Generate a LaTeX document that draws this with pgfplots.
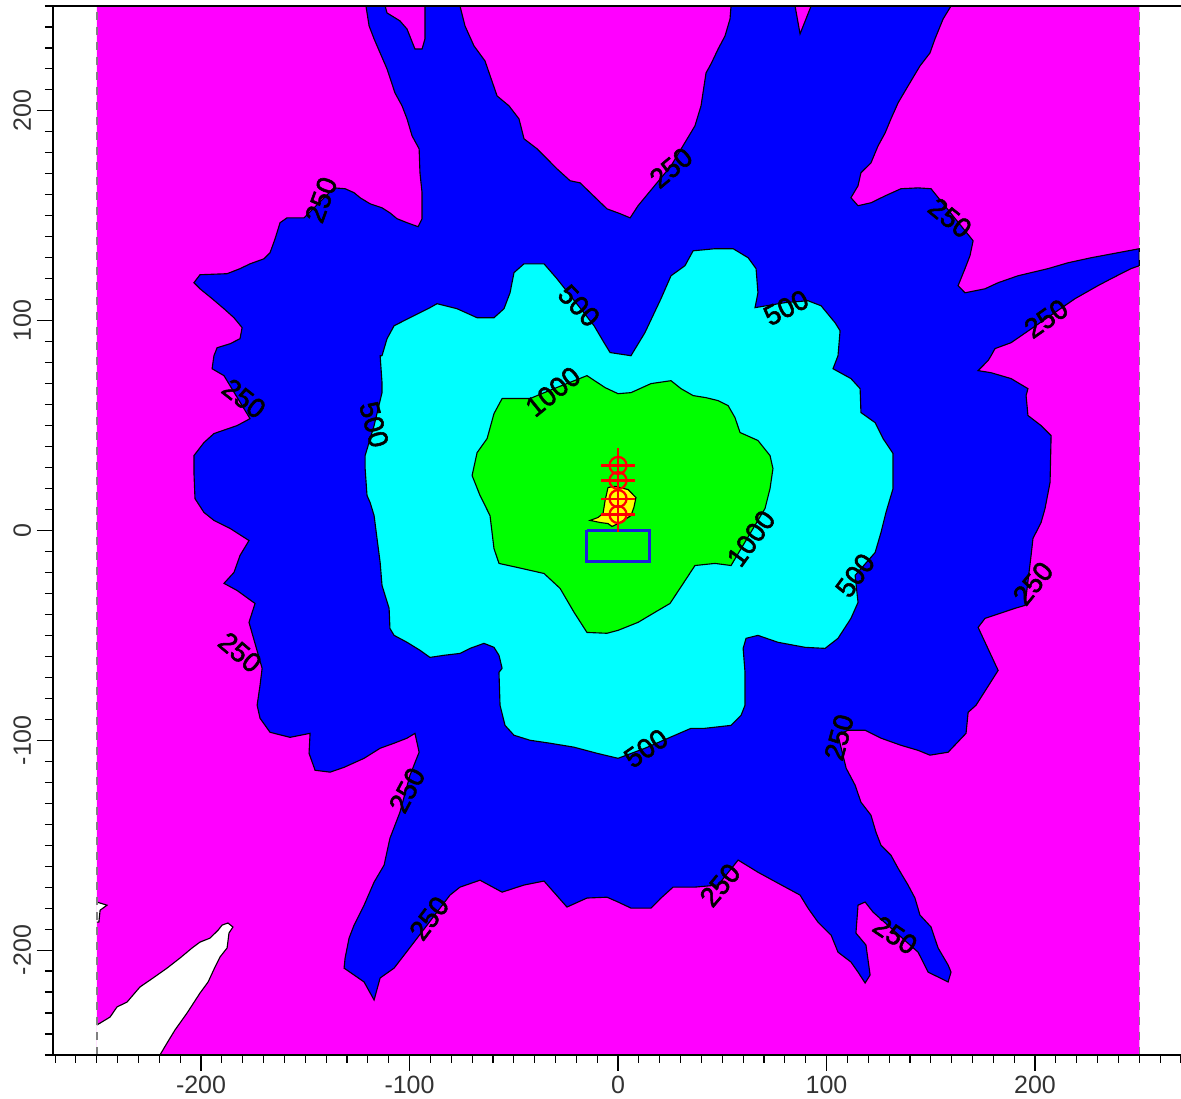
\documentclass[border=0pt]{standalone}
\usepackage{pgfplots}
\pgfplotsset{compat=1.18}
\usepackage{fontspec}
\setmainfont{Liberation Sans}
\newfontfamily\clabfont{Liberation Sans}[FakeBold=2]
\definecolor{cmag}{RGB}{255,0,255}
\definecolor{cblue}{RGB}{0,0,255}
\definecolor{ccyan}{RGB}{0,255,255}
\definecolor{cgreen}{RGB}{0,255,0}
\definecolor{cyel}{RGB}{255,255,0}
\definecolor{crect}{RGB}{30,30,220}
\tikzset{contour label/.style={font=\clabfont\fontsize{11}{13}\selectfont, black, inner sep=0pt}}
\begin{document}
\begin{tikzpicture}
\begin{axis}[
  scale only axis, width=451.2pt, height=419.6pt,
  xmin=-271, xmax=270, ymin=-250, ymax=250,
  axis x line*=box, axis y line*=left,
  axis on top,
  axis line style={line width=0.5pt, black},
  xtick pos=left, ytick pos=left,
  tick align=outside,
  major tick length=6.4pt, minor tick length=3.2pt,
  every tick/.style={black, line width=0.45pt},
  xtick={-200,-100,0,100,200},
  xticklabels={-200,-100,0,100,200},
  ytick={-200,-100,0,100,200},
  yticklabels={-200,-100,0,100,200},
  minor xtick={-270,-260,...,270},
  minor ytick={-250,-240,...,250},
  ticklabel style={font=\fontsize{10}{12}\selectfont, text=black!80},
  yticklabel style={rotate=90, anchor=south},
  xticklabel shift=-1.6pt,
  yticklabel shift=-1.2pt,
]
% background level (magenta)
\addplot[fill=cmag, draw=none] coordinates {(-250,-250)(250,-250)(250,250)(-250,250)(-250,-250)};
% white (below lowest level) bottom-left
\addplot[fill=white, draw=none] coordinates {(-250,-235.7)(-248.4,-234.8)(-243.6,-231.9)(-240.3,-227.1)(-235.5,-224.8)(-229.3,-217.6)(-223.0,-213.3)(-216.3,-208.6)(-210.1,-203.8)(-204.3,-199.0)(-200.5,-196.2)(-195.7,-194.3)(-191.8,-190.5)(-189.9,-188.1)(-187.1,-187.1)(-184.7,-189.0)(-186.6,-191.9)(-187.5,-199.0)(-190.9,-203.3)(-193.3,-208.1)(-196.6,-215.2)(-200.5,-220.5)(-206.7,-230.0)(-212.5,-238.1)(-216.3,-244.3)(-219.7,-250)(-250,-250)(-250,-235.7)};
\addplot[black, line width=0.45pt] coordinates {(-250,-235.7)(-248.4,-234.8)(-243.6,-231.9)(-240.3,-227.1)(-235.5,-224.8)(-229.3,-217.6)(-223.0,-213.3)(-216.3,-208.6)(-210.1,-203.8)(-204.3,-199.0)(-200.5,-196.2)(-195.7,-194.3)(-191.8,-190.5)(-189.9,-188.1)(-187.1,-187.1)(-184.7,-189.0)(-186.6,-191.9)(-187.5,-199.0)(-190.9,-203.3)(-193.3,-208.1)(-196.6,-215.2)(-200.5,-220.5)(-206.7,-230.0)(-212.5,-238.1)(-216.3,-244.3)(-219.7,-250)};
\addplot[fill=white, draw=black, line width=0.45pt] coordinates {(-250,-177.1)(-245.1,-178.6)(-248.4,-181)(-249,-186.7)(-250,-186.7)};
% 250 level (blue)
\addplot[fill=cblue, draw=black, line width=0.45pt] coordinates {
(-120.9,250)(-111.7,250)(-110.8,246.7)(-104.6,242.9)(-101.2,239.0)(-97.4,229.5)(-94.0,229.5)(-92.6,234.3)(-92.6,250)(-75.8,250)(-73.4,240.5)(-69.1,231.0)(-63.8,223.8)(-58.0,207.1)(-52.3,202.4)(-47.5,196.2)(-45.1,186.7)(-38.8,181.9)(-29.3,172.4)(-23.0,166.7)(-18.2,165.7)(-5.3,153.3)(1.0,151.0)(5.8,149.0)(9.6,154.8)(25.4,173.8)(36.9,192.9)(39.8,202.4)(42.2,218.1)(44.6,222.4)(48.0,229.5)(51.3,235.7)(53.7,243.8)(54.2,250)(84.9,250)(87.3,236.7)(92.6,250)(159.7,250)(155.9,243.8)(152.0,234.3)(149.6,227.6)(144.8,221.4)(139.1,211.9)(134.3,203.8)(130.9,196.2)(128.1,189.5)(124.7,183.3)(121.3,175.2)(116.5,170.5)(115.1,164.3)(111.7,158.6)(115.1,154.8)(121.3,156.2)(128.1,159.5)(135.7,162.9)(143.9,163.3)(150.1,162.9)(170.3,138.1)(168.8,131.0)(166.4,124.8)(163.1,116.7)(166.4,113.3)(176.0,115.2)(182.3,118.1)(191.8,121.4)(206.2,124.8)(215.8,127.6)(226.9,130.0)(239.8,132.4)(250,134.3)(250,126.2)(246.0,124.8)(236.5,120.0)(230.2,116.7)(219.2,110.5)(188.5,89.5)(180.8,86.7)(178.9,83.3)(177.5,81.0)(172.7,76.2)(178.9,75.2)(188.5,72.4)(196.6,67.6)(195.7,64.3)(196.6,54.8)(202.9,50.0)(207.7,45.2)(207.2,22.9)(204.8,10.5)(202.9,3.8)(199.0,-3.8)(198.1,-11.9)(195.2,-35.7)(190.4,-37.1)(176.0,-41.9)(172.7,-46.2)(182.3,-66.7)(171.7,-83.3)(167.9,-86.7)(166.9,-96.7)(158.3,-105.7)(149.6,-107.1)(143.9,-104.8)(135.7,-102.4)(126.1,-99.0)(118.5,-95.2)(110.3,-95.2)(105.5,-97.6)(109.4,-113.3)(113.7,-121.4)(116.5,-129.5)(121.3,-135.7)(123.7,-143.8)(126.1,-150.0)(130.9,-154.8)(134.3,-161.0)(139.1,-169.0)(142.4,-175.2)(144.8,-183.3)(150.1,-189.0)(153.5,-199.0)(158.3,-207.1)(159.7,-210.5)(158.3,-215.2)(148.7,-210.5)(143.9,-201.0)(122.3,-181.9)(118.5,-177.1)(115.1,-178.6)(114.1,-191.9)(118.9,-197.6)(120.9,-211.9)(118.5,-215.7)(115.1,-210.5)(111.7,-205.7)(105.5,-201.0)(102.2,-192.9)(95.9,-186.7)(91.1,-180.0)(87.3,-173.8)(76.7,-168.1)(67.1,-162.9)(57.6,-157.1)(48.0,-169.0)(36.9,-170.0)(26.4,-170.0)(20.6,-175.2)(15.8,-180.0)(6.2,-180.0)(0,-177.1)(-5.3,-174.8)(-14.9,-175.2)(-24.5,-179.5)(-35.5,-167.1)(-45.1,-169.0)(-55.6,-172.4)(-66.2,-166.7)(-75.8,-170.0)(-80.6,-173.8)(-97.8,-196.2)(-102.6,-202.4)(-107.4,-208.6)(-114.1,-213.3)(-117.0,-223.8)(-121.8,-215.2)(-126.6,-211.9)(-131.4,-208.6)(-130.9,-203.8)(-129.0,-194.3)(-126.6,-188.1)(-121.8,-178.6)(-117.0,-167.6)(-112.2,-159.5)(-109.4,-146.7)(-104.6,-134.3)(-99.8,-116.7)(-95.4,-105.7)(-97.4,-96.7)(-101.2,-99.0)(-107.4,-101.4)(-114.1,-103.8)(-121.8,-108.6)(-131.4,-112.9)(-138.1,-115.2)(-145.3,-114.3)(-148.2,-106.2)(-147.7,-96.7)(-157.3,-98.6)(-166.9,-96.2)(-171.7,-89.5)(-173.1,-83.3)(-171.7,-73.8)(-170.7,-65.7)(-177.0,-43.8)(-174.1,-34.8)(-182.7,-28.6)(-189.0,-25.2)(-184.2,-20.0)(-181.3,-11.9)(-177.0,-4.8)(-186.1,1.0)(-193.8,4.8)(-198.6,8.6)(-202.9,15.2)(-203.4,27.6)(-203.4,35.7)(-198.6,41.9)(-193.8,46.2)(-182.7,50.0)(-176.5,53.3)(-189.0,73.8)(-194.7,77.1)(-193.8,83.3)(-192.3,87.1)(-186.1,89.0)(-181.3,91.4)(-180.3,96.7)(-184.2,101.4)(-189.0,105.7)(-194.7,110.5)(-200.5,115.2)(-203.4,118.1)(-200.5,121.9)(-187.5,122.4)(-181.3,124.8)(-176.5,127.1)(-169.8,129.5)(-166.9,132.4)(-164.5,139.0)(-162.1,146.7)(-158.8,149.0)(-150.6,149.0)(-136.2,163.3)(-130.9,162.9)(-126.6,161.0)(-123.7,158.6)(-118.9,155.7)(-113.2,153.8)(-109.4,151.4)(-106.0,148.6)(-101.2,146.7)(-95.9,144.8)(-94.0,148.6)(-94.0,161.0)(-95.0,170.5)(-95.4,181.9)(-98.8,188.1)(-101.2,196.2)(-103.6,202.4)(-107.0,208.6)(-110.8,220.0)(-114.1,227.6)(-117.0,234.3)(-119.4,240.5)(-120.9,250)};
% 500 level (cyan)
\addplot[fill=ccyan, draw=black, line width=0.45pt] coordinates {
(-113.2,83.3)(-110.8,91.4)(-107.4,97.6)(-99.8,101.4)(-90.2,106.2)(-86.8,108.1)(-77.2,105.7)(-67.6,101.4)(-59.5,101.4)(-54.7,105.7)(-51.8,113.3)(-49.9,122.9)(-45.1,127.1)(-35.5,127.1)(-29.3,120.0)(-11.5,97.6)(-6.7,89.5)(-3.8,84.8)(6.2,83.3)(12.9,94.3)(20.6,110.5)(25.4,121.4)(32.1,126.2)(36.0,133.3)(46.5,134.3)(55.2,134.3)(62.4,130.0)(66.2,124.8)(67.1,113.3)(65.7,106.2)(80.1,108.6)(91.1,109.5)(97.4,107.1)(104.1,99.0)(106.5,95.2)(105.5,83.3)(103.1,77.1)(111.7,72.4)(116.1,67.6)(116.5,56.2)(123.3,51.4)(127.1,43.8)(131.9,36.7)(131.9,20.0)(128.5,8.6)(126.1,-1.0)(123.3,-10.5)(113.7,-21.4)(115.1,-34.3)(111.7,-41.9)(105.5,-51.4)(99.3,-56.2)(89.7,-55.7)(76.7,-53.3)(67.1,-50.0)(61.4,-51.4)(60.0,-56.2)(60.9,-67.6)(60.9,-83.3)(59.0,-88.1)(54.2,-92.9)(41.7,-94.3)(35.0,-94.3)(27.3,-97.6)(12.9,-103.8)(0,-108.6)(-10.1,-106.2)(-21.1,-103.3)(-32.6,-101.4)(-42.2,-100.0)(-49.9,-97.6)(-54.2,-92.9)(-56.6,-83.3)(-57.1,-67.6)(-55.6,-65.7)(-57.1,-59.5)(-59.5,-55.7)(-64.3,-53.8)(-71.0,-56.2)(-75.8,-58.6)(-83.5,-59.5)(-90.2,-60.5)(-95.0,-57.1)(-101.2,-53.3)(-107.4,-50.0)(-109.4,-46.7)(-109.8,-37.1)(-113.2,-26.2)(-114.1,-15.2)(-115.6,-3.8)(-117.0,7.1)(-118.9,13.3)(-120.4,16.7)(-121.3,29.5)(-121.3,35.7)(-117.0,50.0)(-113.2,65.7)(-113.2,70.5)(-114.1,83.3)(-113.2,83.3)};
% 1000 level (green)
\addplot[fill=cgreen, draw=black, line width=0.45pt] coordinates {
(-55.6,62.9)(-59.5,55.7)(-62.8,43.8)(-67.6,37.1)(-70.0,26.2)(-66.2,16.7)(-61.4,7.1)(-59.5,-8.6)(-57.1,-15.7)(-48.4,-17.6)(-35.5,-20.5)(-27.8,-27.6)(-21.1,-39.0)(-14.9,-48.6)(-5.3,-49.0)(0,-47.6)(9.6,-43.8)(17.7,-39.0)(24.9,-34.8)(29.7,-27.6)(36.9,-16.7)(46.5,-15.7)(54.2,-16.7)(70.5,10.5)(72.9,20.0)(74.3,29.5)(72.9,35.7)(67.1,42.9)(58.5,46.7)(56.1,53.8)(52.8,59.5)(48.0,61.9)(42.2,63.3)(36.0,64.3)(30.2,67.6)(25.4,71.4)(15.8,70.0)(6.2,65.7)(0,65.2)(-6.2,68.1)(-14.9,73.8)(-30.7,67.6)(-42.2,62.9)(-55.6,62.9)};
% highest level (yellow)
\addplot[fill=cyel, draw=black, line width=0.45pt] coordinates {
(-4.8,20.5)(-1.4,21.0)(4.8,19.5)(8.6,15.7)(7.6,11.0)(6.2,7.1)(1.0,3.8)(-2.9,1.9)(-4.8,3.3)(-8.6,3.8)(-13.4,4.8)(-9.6,6.2)(-7.2,8.1)(-6.2,14.3)(-4.8,20.5)};
% data-grid border
\addplot[gray, dashed, line width=0.6pt] coordinates {(-250,-250)(-250,250)};
\addplot[gray, dashed, line width=0.6pt] coordinates {(250,-250)(250,250)};
% building
\addplot[crect, line width=1.2pt] coordinates {(-15,0)(15,0)(15,-15)(-15,-15)(-15,0)};
% sources
\addplot[red, only marks, mark=+, mark size=6.8pt, mark options={line width=0.85pt}] coordinates {(0,31.0)(0,23.8)(0,15.2)(0,7.6)};
\addplot[red, only marks, mark=o, mark size=3.4pt, mark options={line width=0.9pt}] coordinates {(0,31.0)(0,23.8)(0,15.2)(0,7.6)};
% contour labels
\node[contour label, rotate=70] at (axis cs:-142.4,157.6) {250};
\node[contour label, rotate=40] at (axis cs:25.4,172.9) {250};
\node[contour label, rotate=-39] at (axis cs:159.2,149.0) {250};
\node[contour label, rotate=35] at (axis cs:205.3,101.0) {250};
\node[contour label, rotate=-46] at (axis cs:-18.7,107.1) {500};
\node[contour label, rotate=27] at (axis cs:80.6,106.2) {500};
\node[contour label, rotate=39] at (axis cs:-31.2,66.2) {1000};
\node[contour label, rotate=-75] at (axis cs:-117.0,50.5) {500};
\node[contour label, rotate=-38] at (axis cs:-179.4,62.9) {250};
\node[contour label, rotate=54] at (axis cs:63.8,-3.8) {1000};
\node[contour label, rotate=54] at (axis cs:113.7,-21.4) {500};
\node[contour label, rotate=51] at (axis cs:199.0,-25.2) {250};
\node[contour label, rotate=-40] at (axis cs:-181.3,-58.1) {250};
\node[contour label, rotate=35] at (axis cs:13.4,-103.8) {500};
\node[contour label, rotate=75] at (axis cs:106.0,-98.6) {250};
\node[contour label, rotate=62] at (axis cs:-101.2,-123.8) {250};
\node[contour label, rotate=53] at (axis cs:-90.6,-184.8) {250};
\node[contour label, rotate=50] at (axis cs:48.9,-169.0) {250};
\node[contour label, rotate=-34] at (axis cs:132.9,-192.9) {250};
\coordinate (bl) at (rel axis cs:0,0);
\coordinate (tr) at (rel axis cs:1,1);
\end{axis}
\pgfresetboundingbox
\path[use as bounding box] ([xshift=-21.2pt,yshift=-17.6pt]bl) rectangle ([yshift=2.4pt]tr);
\end{tikzpicture}
\end{document}
